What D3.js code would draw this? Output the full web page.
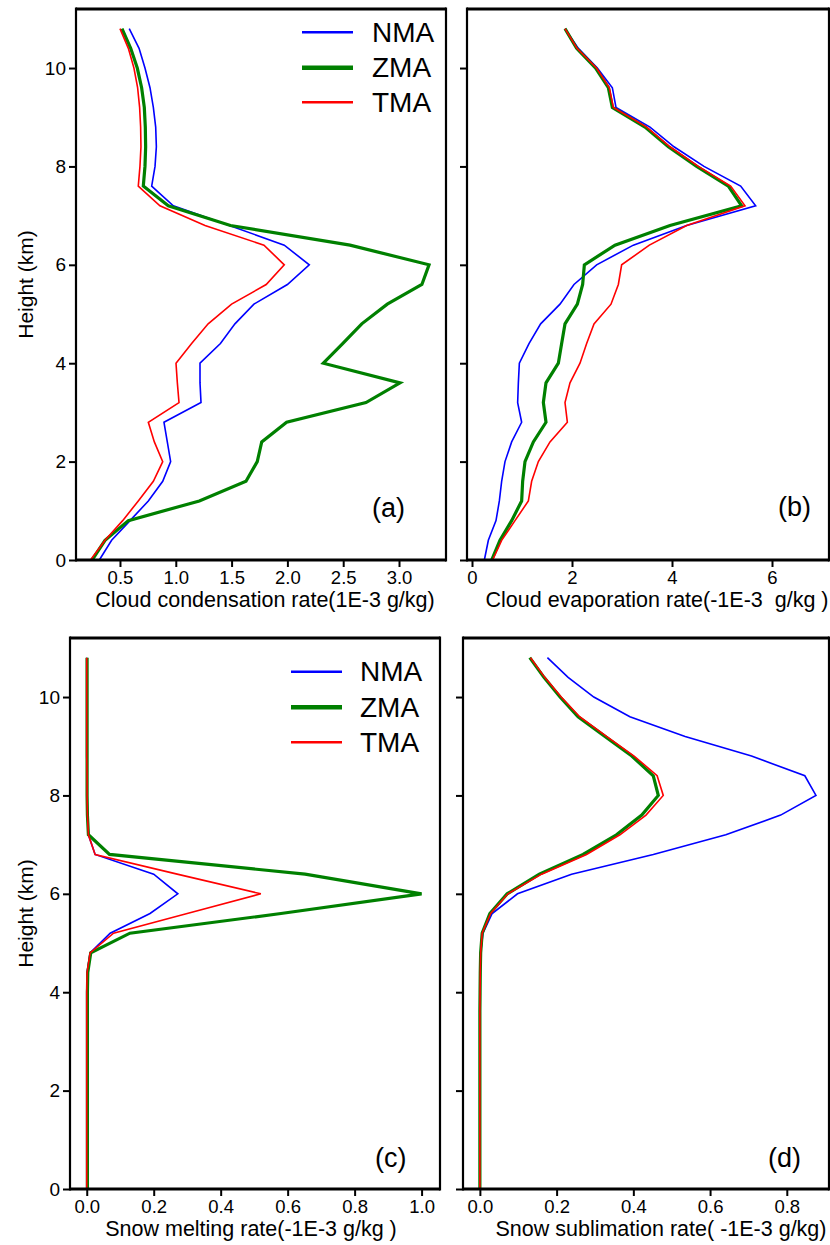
<!DOCTYPE html>
<html><head><meta charset="utf-8">
<script src="https://cdn.jsdelivr.net/npm/d3@7"></script>
<style>
body{margin:0;background:#fff;}
svg text{font-family:"Liberation Sans",Arial,sans-serif;fill:#000;white-space:pre;}
</style></head>
<body><svg id="c" width="830" height="1245"></svg>
<script>
const heights = [0,0.4,0.8,1.2,1.6,2.0,2.4,2.8,3.2,3.6,4.0,4.4,4.8,5.2,5.6,6.0,6.4,6.8,7.2,7.6,8.0,8.4,8.8,9.2,9.6,10.0,10.4,10.8];
const seriesNames = ["NMA","ZMA","TMA"];

// (a) Cloud condensation rate
const condNMA = [0.315,0.425,0.59,0.754,0.883,0.954,0.924,0.894,1.226,1.217,1.217,1.40,1.53,1.70,2.00,2.196,1.972,1.48,0.978,0.784,0.814,0.826,0.82,0.799,0.769,0.724,0.671,0.583];
const condZMA = [0.25,0.366,0.575,1.211,1.629,1.73,1.77,1.993,2.704,3.009,2.322,2.495,2.666,2.895,3.205,3.269,2.561,1.49,0.933,0.709,0.724,0.73,0.727,0.718,0.694,0.655,0.596,0.518];
const condTMA = [0.236,0.366,0.524,0.664,0.799,0.883,0.808,0.754,1.029,1.014,1.002,1.142,1.29,1.50,1.81,1.972,1.79,1.262,0.858,0.664,0.679,0.688,0.685,0.676,0.658,0.625,0.575,0.50];

// (b) Cloud evaporation rate
const evapNMA = [0.247,0.327,0.48,0.547,0.593,0.66,0.793,0.993,0.913,0.927,0.947,1.14,1.373,1.76,2.04,2.493,3.227,4.293,5.673,5.373,4.64,4.04,3.56,2.88,2.807,2.507,2.127,1.86];
const evapZMA = [0.393,0.56,0.793,0.993,1.013,1.06,1.227,1.48,1.427,1.48,1.727,1.793,1.86,2.107,2.213,2.247,2.86,3.96,5.393,5.127,4.493,3.927,3.46,2.807,2.727,2.473,2.093,1.86];
const evapTMA = [0.413,0.593,0.86,1.127,1.193,1.327,1.56,1.907,1.86,1.96,2.16,2.293,2.44,2.78,2.927,2.993,3.547,4.293,5.46,5.173,4.527,3.96,3.493,2.827,2.747,2.49,2.1,1.86];

// (c) Snow melting rate
const meltNMA = [0,0,0,0,0,0,0,0,0,0,0,0.001,0.01,0.07,0.189,0.272,0.20,0.025,0.005,0.002,0.001,0.001,0,0,0,0,0,0];
const meltZMA = [0.002,0.002,0.002,0.002,0.002,0.002,0.002,0.002,0.002,0.002,0.002,0.003,0.012,0.129,0.58,1.0,0.652,0.068,0.005,0.002,0.001,0.001,0.001,0.001,0.001,0.001,0.001,0.001];
const meltTMA = [0,0,0,0,0,0,0,0,0,0,0,0.001,0.01,0.08,0.30,0.52,0.27,0.025,0.005,0.002,0.001,0.001,0,0,0,0,0,0];

// (d) Snow sublimation rate
const sublNMA = [0,0,0,0,0,0,0,0,0,0,0.0005,0.001,0.002,0.008,0.032,0.098,0.239,0.452,0.641,0.784,0.876,0.847,0.708,0.535,0.391,0.297,0.230,0.176];
const sublZMA = [0,0,0,0,0,0,0,0,0,0,0.0005,0.001,0.002,0.006,0.026,0.071,0.155,0.269,0.356,0.422,0.465,0.452,0.396,0.326,0.256,0.209,0.167,0.130];
const sublTMA = [0,0,0,0,0,0,0,0,0,0,0.0005,0.001,0.002,0.006,0.028,0.073,0.161,0.278,0.365,0.433,0.478,0.462,0.402,0.33,0.26,0.212,0.169,0.132];

const xTicksA = [0.5,1.0,1.5,2.0,2.5,3.0];
const xTicksB = [0,2,4,6];
const xTicksC = [0.0,0.2,0.4,0.6,0.8,1.0];
const xTicksD = [0.0,0.2,0.4,0.6,0.8];
const yTicks = [0,2,4,6,8,10];

const colors = {NMA:"#0000ff", ZMA:"#008000", TMA:"#ff0000"};
const widths = {NMA:1.6, ZMA:3.2, TMA:1.6};
const legWidths = {NMA:2.4, ZMA:4.6, TMA:2.4};

const panels = [
  {data:{NMA:condNMA,ZMA:condZMA,TMA:condTMA}, px:[76,446], py:[560,9], dom:[0.106,3.421], ticks:xTicksA, fmt:".1f", yLab:true,
   xlabel:"Cloud condensation rate(1E-3 g/kg)", lx:265, tag:"(a)", tx:372, ty:517, legend:{x1:302,x2:353,tx:372,ys:[32.3,67.7,102.3]}},
  {data:{NMA:evapNMA,ZMA:evapZMA,TMA:evapTMA}, px:[467,829], py:[560,9], dom:[-0.1,7.14], ticks:xTicksB, fmt:"d", yLab:false,
   xlabel:"Cloud evaporation rate(-1E-3  g/kg )", lx:657, tag:"(b)", tx:778, ty:516},
  {data:{NMA:meltNMA,ZMA:meltZMA,TMA:meltTMA}, px:[70,440], py:[1189,638], dom:[-0.05,1.055], ticks:xTicksC, fmt:".1f", yLab:true,
   xlabel:"Snow melting rate(-1E-3 g/kg )", lx:251, tag:"(c)", tx:375, ty:1167, legend:{x1:291,x2:342,tx:360,ys:[671.7,707.3,742.3]}},
  {data:{NMA:sublNMA,ZMA:sublZMA,TMA:sublTMA}, px:[463,829], py:[1189,638], dom:[-0.044,0.91], ticks:xTicksD, fmt:".1f", yLab:false,
   xlabel:"Snow sublimation rate( -1E-3 g/kg)", lx:661, tag:"(d)", tx:768, ty:1167}
];

const svg = d3.select("#c");

panels.forEach(p => {
  const x = d3.scaleLinear().domain(p.dom).range(p.px);
  const y = d3.scaleLinear().domain([0,11.2]).range(p.py);
  const g = svg.append("g");

  const line = d3.line().x(d => x(d[0])).y(d => y(d[1]));
  seriesNames.forEach(s => {
    const pts = p.data[s].map((v,i) => [v, heights[i]]);
    g.append("path").attr("d", line(pts)).attr("fill","none")
      .attr("stroke", colors[s]).attr("stroke-width", widths[s]).attr("stroke-linejoin","miter");
  });

  const xAxis = d3.axisBottom(x).tickValues(p.ticks).tickFormat(d3.format(p.fmt)).tickSize(7).tickPadding(4);
  const gx = g.append("g").attr("transform",`translate(0,${p.py[0]})`).call(xAxis);
  gx.select(".domain").remove();
  gx.selectAll(".tick line").attr("stroke","#000").attr("stroke-width",2);
  gx.selectAll(".tick text").attr("font-size",18.5).attr("fill","#000").attr("font-family","Liberation Sans, Arial, sans-serif");

  const yAxis = d3.axisLeft(y).tickValues(yTicks).tickSize(7).tickPadding(3)
    .tickFormat(p.yLab ? d3.format("d") : () => "");
  const gy = g.append("g").attr("transform",`translate(${p.px[0]},0)`).call(yAxis);
  gy.select(".domain").remove();
  gy.selectAll(".tick line").attr("stroke","#000").attr("stroke-width",2);
  gy.selectAll(".tick text").attr("font-size",19).attr("fill","#000").attr("font-family","Liberation Sans, Arial, sans-serif");

  g.append("line").attr("x1",p.px[0]).attr("x2",p.px[1]).attr("y1",p.py[0]).attr("y2",p.py[0]).attr("stroke","#000").attr("stroke-width",3);
  g.append("line").attr("x1",p.px[0]).attr("x2",p.px[1]).attr("y1",p.py[1]).attr("y2",p.py[1]).attr("stroke","#000").attr("stroke-width",3);
  g.append("line").attr("x1",p.px[0]).attr("x2",p.px[0]).attr("y1",p.py[0]+1.5).attr("y2",p.py[1]-1.5).attr("stroke","#000").attr("stroke-width",2.2);
  g.append("line").attr("x1",p.px[1]).attr("x2",p.px[1]).attr("y1",p.py[0]+1.5).attr("y2",p.py[1]-1.5).attr("stroke","#000").attr("stroke-width",2.2);

  g.append("text").attr("x",p.lx).attr("y",p.py[0]+47).attr("text-anchor","middle")
    .attr("font-size",21.5).text(p.xlabel);
  if (p.yLab) {
    const cy = (p.py[0]+p.py[1])/2;
    g.append("text").attr("transform",`translate(33,${cy}) rotate(-90)`).attr("text-anchor","middle")
      .attr("font-size",21).text("Height (km)");
  }
  g.append("text").attr("x",p.tx).attr("y",p.ty).attr("font-size",27).text(p.tag);

  if (p.legend) {
    seriesNames.forEach((s,i) => {
      const ly = p.legend.ys[i];
      g.append("line").attr("x1",p.legend.x1).attr("x2",p.legend.x2).attr("y1",ly).attr("y2",ly)
        .attr("stroke",colors[s]).attr("stroke-width",legWidths[s]);
      g.append("text").attr("x",p.legend.tx).attr("y",ly+9.5).attr("font-size",28).text(s);
    });
  }
});
</script></body></html>
